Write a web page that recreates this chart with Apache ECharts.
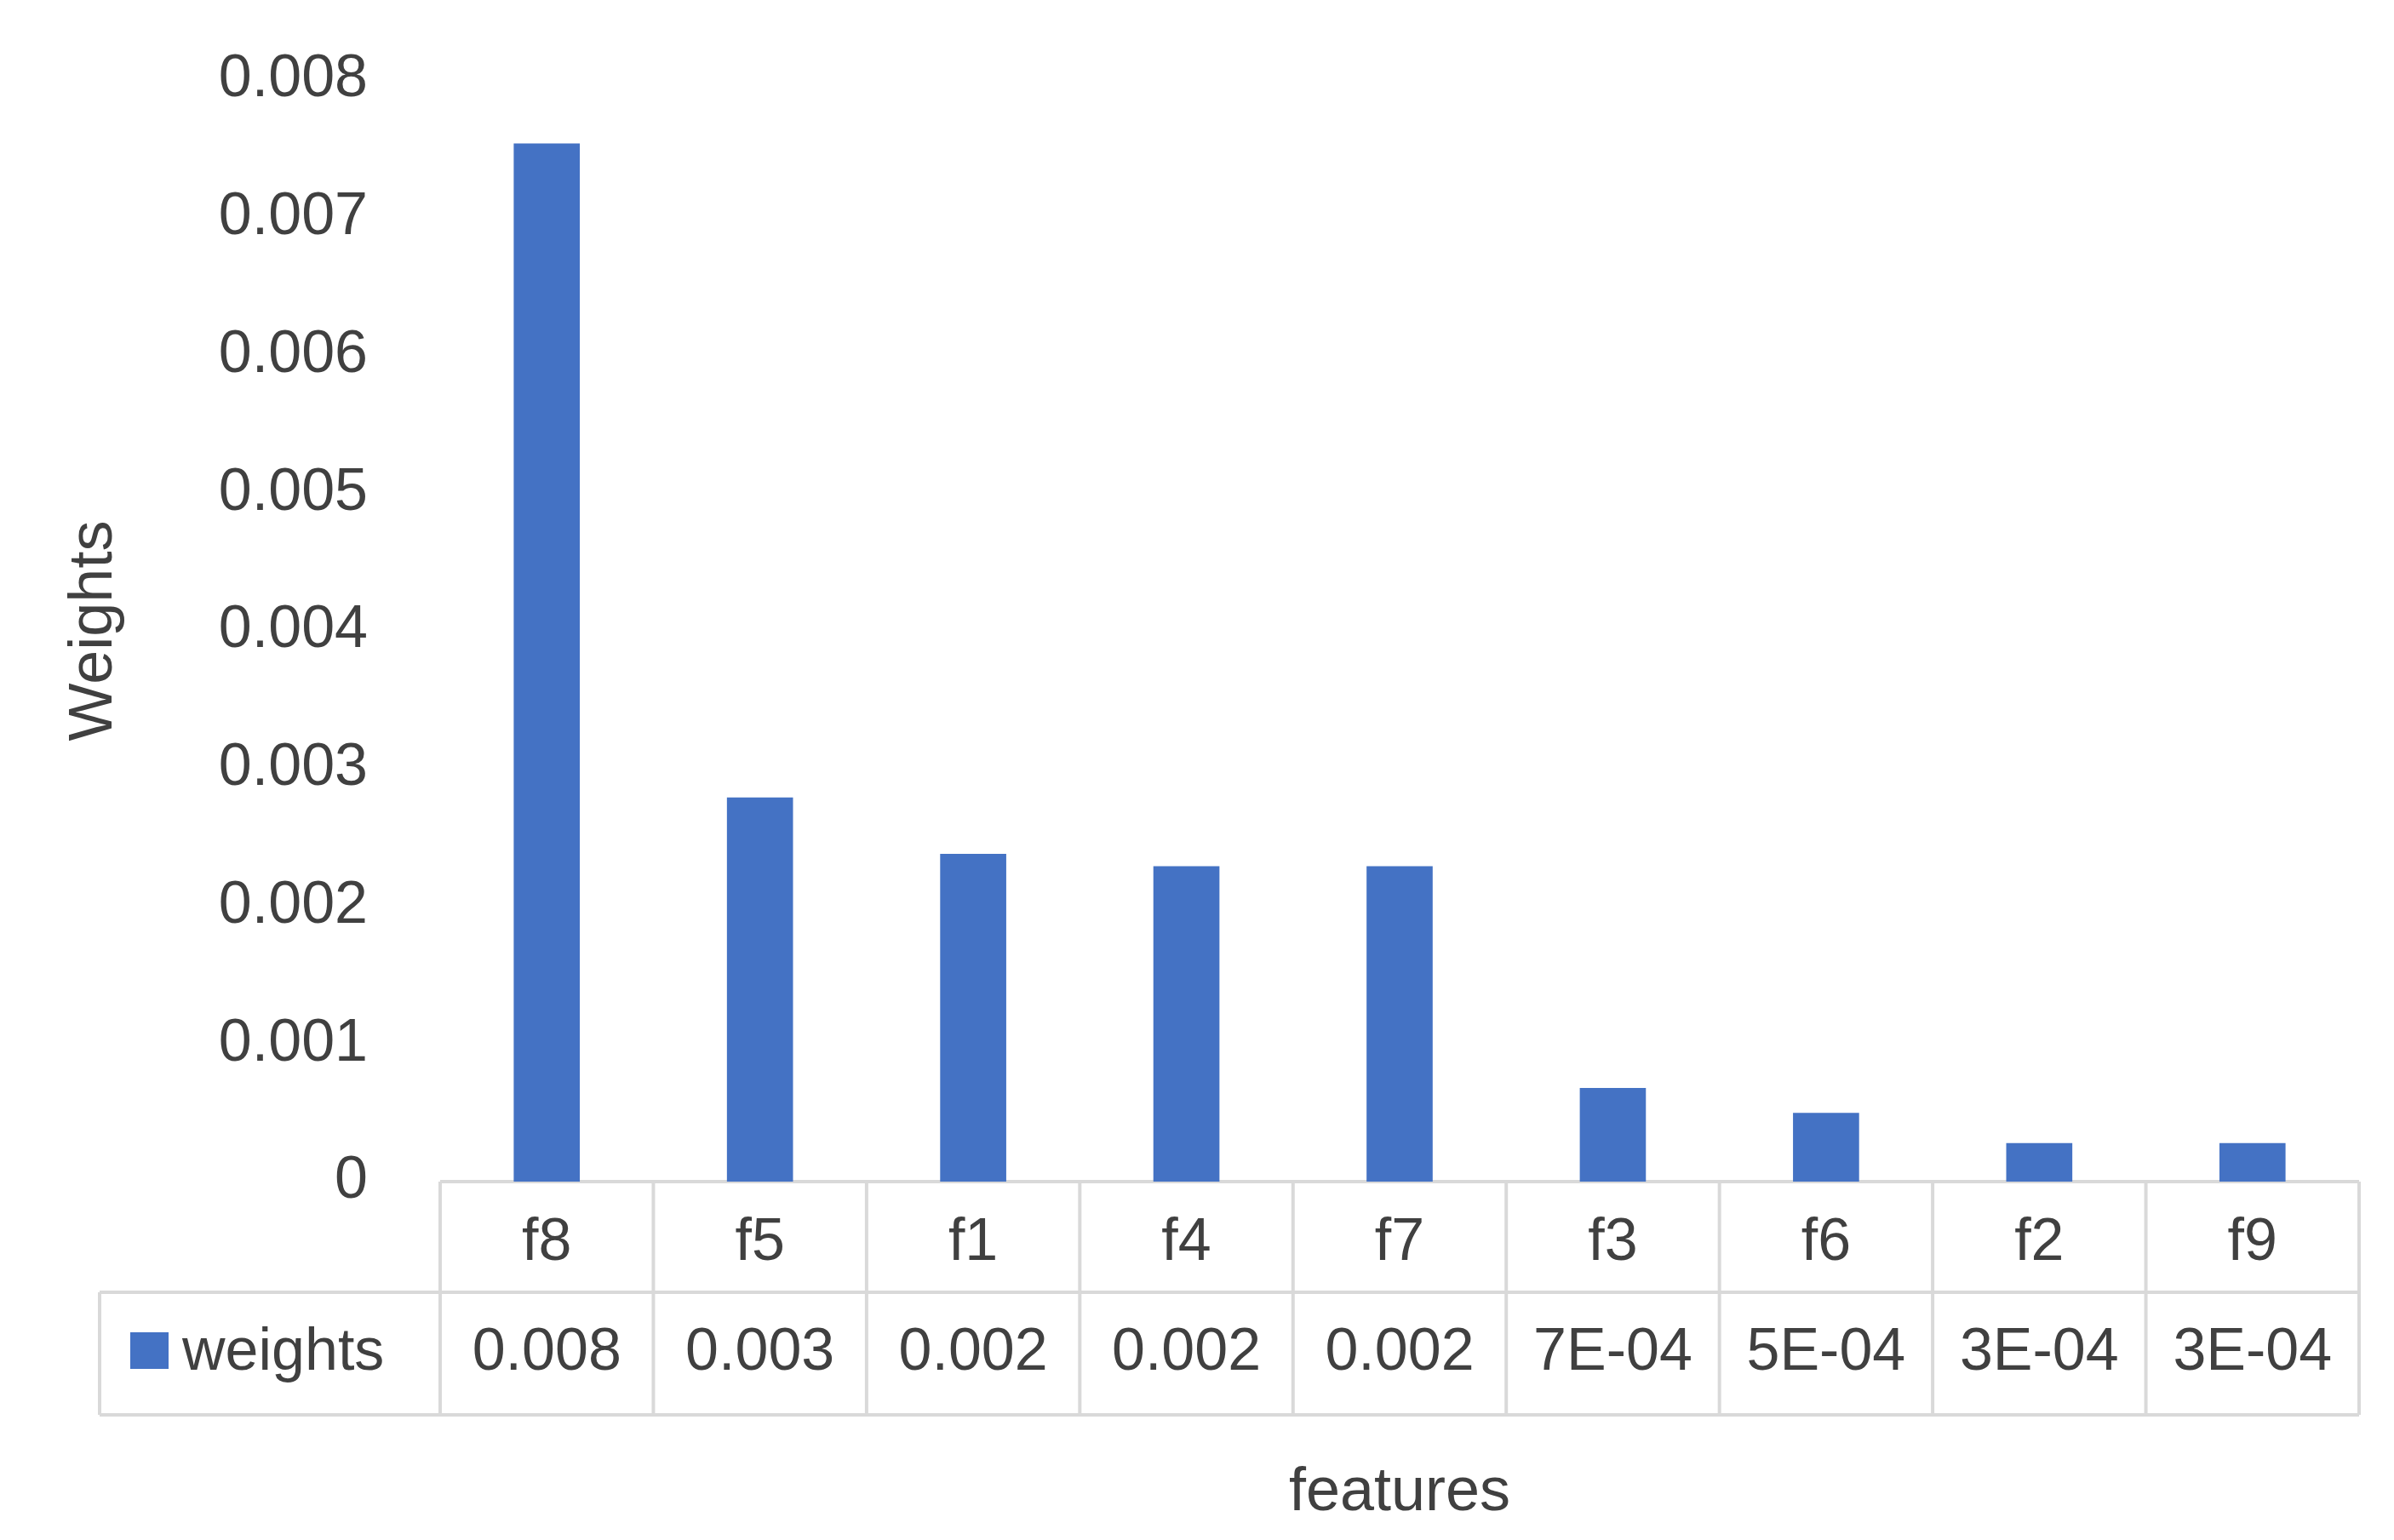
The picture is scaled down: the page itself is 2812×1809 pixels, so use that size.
<!DOCTYPE html>
<html><head><meta charset="utf-8">
<script src="https://cdn.jsdelivr.net/npm/echarts@6/dist/echarts.min.js"></script>
<style>html,body{margin:0;padding:0;background:#fff}#c{width:2812px;height:1809px}</style>
</head><body><div id="c"></div>
<script>
const categories = ['f8','f5','f1','f4','f7','f3','f6','f2','f9'];
const weights = [0.00754, 0.00279, 0.00238, 0.00229, 0.00229, 0.00068, 0.0005, 0.00028, 0.00028];
const yTicks = [0,0.001,0.002,0.003,0.004,0.005,0.006,0.007,0.008];
const seriesName = 'weights';

function fmt(v){
  if (v >= 0.001) return v.toFixed(3);
  const e = v.toExponential(0).toUpperCase();
  return e.replace(/E([+-])(\d)$/, 'E$10$2');
}
const F = 'Liberation Sans, Arial, sans-serif';
const G = {left:517, right:41, top:94, bottom:421};
const W = 2812, H = 1809;
const chart = echarts.init(document.getElementById('c'));
chart.setOption({
  animation:false,
  grid:{left:G.left, right:G.right, top:G.top, bottom:G.bottom},
  xAxis:{type:'category', data:categories, axisTick:{show:false},
    axisLine:{show:false},
    axisLabel:{fontSize:70, fontFamily:F, color:'#404040', margin:38},
    name:'features', nameLocation:'middle', nameGap:330,
    nameTextStyle:{fontSize:72, fontFamily:F, color:'#404040'}},
  yAxis:{type:'value', min:0, max:0.008, interval:0.001, splitLine:{show:false},
    axisLine:{show:false}, axisTick:{show:false},
    axisLabel:{fontSize:70, fontFamily:F, color:'#404040', margin:85,
      formatter:v=>v===0?'0':v.toFixed(3)},
    name:'Weights', nameLocation:'middle', nameGap:370, nameRotate:90,
    nameTextStyle:{fontSize:72, fontFamily:F, color:'#404040'}},
  series:[{name:seriesName, type:'bar', data:weights, barWidth:'31%', itemStyle:{color:'#4472c4'}}]
});
const x0 = G.left, x1 = W-G.right, y0 = H-G.bottom;
const r1 = 1518, r2 = 1662, tl = 117;
const band = (x1-x0)/categories.length;
const ls = {stroke:'#d9d9d9', lineWidth:4};
const g = [];
g.push({type:'line', shape:{x1:x0,y1:y0,x2:x1,y2:y0}, style:ls});
g.push({type:'line', shape:{x1:tl,y1:r1,x2:x1,y2:r1}, style:ls});
g.push({type:'line', shape:{x1:tl,y1:r2,x2:x1,y2:r2}, style:ls});
g.push({type:'line', shape:{x1:tl,y1:r1,x2:tl,y2:r2}, style:ls});
for (let i=0;i<=categories.length;i++){
  const x = x0 + i*band;
  g.push({type:'line', shape:{x1:x,y1:y0,x2:x,y2:r2}, style:ls});
}
weights.forEach((v,i)=>{
  const cx = chart.convertToPixel({xAxisIndex:0}, i);
  g.push({type:'text', x:cx, y:(r1+r2)/2, style:{text:fmt(v), fontSize:70, fontFamily:F, fill:'#404040', align:'center', verticalAlign:'middle'}});
});
g.push({type:'rect', shape:{x:153,y:1565,width:45,height:43}, style:{fill:'#4472c4'}});
g.push({type:'text', x:214, y:(r1+r2)/2, style:{text:seriesName, fontSize:70, fontFamily:F, fill:'#404040', align:'left', verticalAlign:'middle'}});
chart.setOption({graphic:g});
</script></body></html>
